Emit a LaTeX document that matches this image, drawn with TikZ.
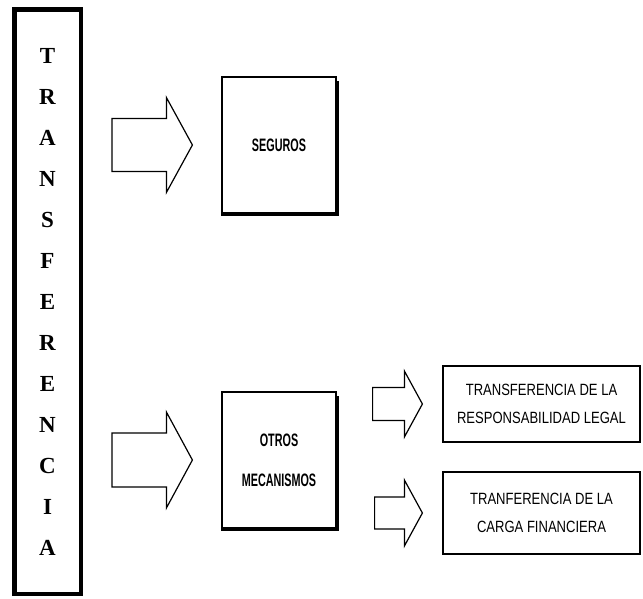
\documentclass[tikz,border=0pt]{standalone}
\usepackage{fontspec}
\newfontfamily\transfont{Liberation Serif}
\newfontfamily\midfont[FakeStretch=0.6]{Liberation Sans}
\newfontfamily\sidefont[FakeStretch=0.8]{Liberation Sans}
\usetikzlibrary{calc}

\newcommand{\blockarrow}[5]{%
  \draw[arrowline] let \p1=#1, \p2=#2 in
    (\x1,\y1+#4) -- (\x2-#3,\y1+#4) -- (\x2-#3,\y1+#5) -- (\x2,\y1)
    -- (\x2-#3,\y1-#5) -- (\x2-#3,\y1-#4) -- (\x1,\y1-#4) -- cycle;}

\begin{document}
\begin{tikzpicture}[
    x=1pt, y=-1pt,
    every node/.style={draw, line width=1.2pt, inner sep=0pt, align=center},
    titlebox/.style={line width=4.5pt, minimum width=66.5pt, minimum height=584.5pt,
        font=\transfont\bfseries\fontsize{23}{41}\selectfont},
    midbox/.style={minimum width=114pt, minimum height=136pt,
        font=\midfont\bfseries\fontsize{18}{40}\selectfont},
    sidebox/.style={minimum width=197pt, font=\sidefont\fontsize{16.3}{28}\selectfont},
    shadowedge/.style={line width=4pt},
    arrowline/.style={line width=1.2pt, line join=miter}
]
\useasboundingbox (0,0) rectangle (643,598);

\node[titlebox] (trans) at (47.5,301.5) {T\\R\\A\\N\\S\\F\\E\\R\\E\\N\\C\\I\\A};

\node[midbox] (seguros) at (279,145) {SEGUROS};
\node[midbox] (otros) at (279,460) {OTROS\\MECANISMOS};

\node[sidebox, minimum height=76pt] (legal) at (541.5,404) {TRANSFERENCIA DE LA\\RESPONSABILIDAD LEGAL};
\node[sidebox, minimum height=82pt] (carga) at (541.5,513) {TRANFERENCIA DE LA\\CARGA FINANCIERA};

\draw[shadowedge] ([yshift=-5pt]seguros.north east) -- (seguros.south east) -- (seguros.south west);
\draw[shadowedge] ([yshift=-5pt]otros.north east) -- (otros.south east) -- (otros.south west);

\blockarrow{($(trans.east |- seguros.west)+(29pt,0)$)}{($(seguros.west)+(-29pt,0)$)}{26pt}{26.5pt}{47.5pt}
\blockarrow{($(trans.east |- otros.west)+(29pt,0)$)}{($(otros.west)+(-29pt,0)$)}{26pt}{27pt}{48pt}
\blockarrow{($(otros.east |- legal.west)+(36pt,0)$)}{($(legal.west)+(-20pt,0)$)}{18pt}{16.5pt}{33pt}
\blockarrow{($(otros.east |- carga.west)+(38pt,0)$)}{($(carga.west)+(-20pt,0)$)}{18pt}{16pt}{33pt}
\end{tikzpicture}
\end{document}
